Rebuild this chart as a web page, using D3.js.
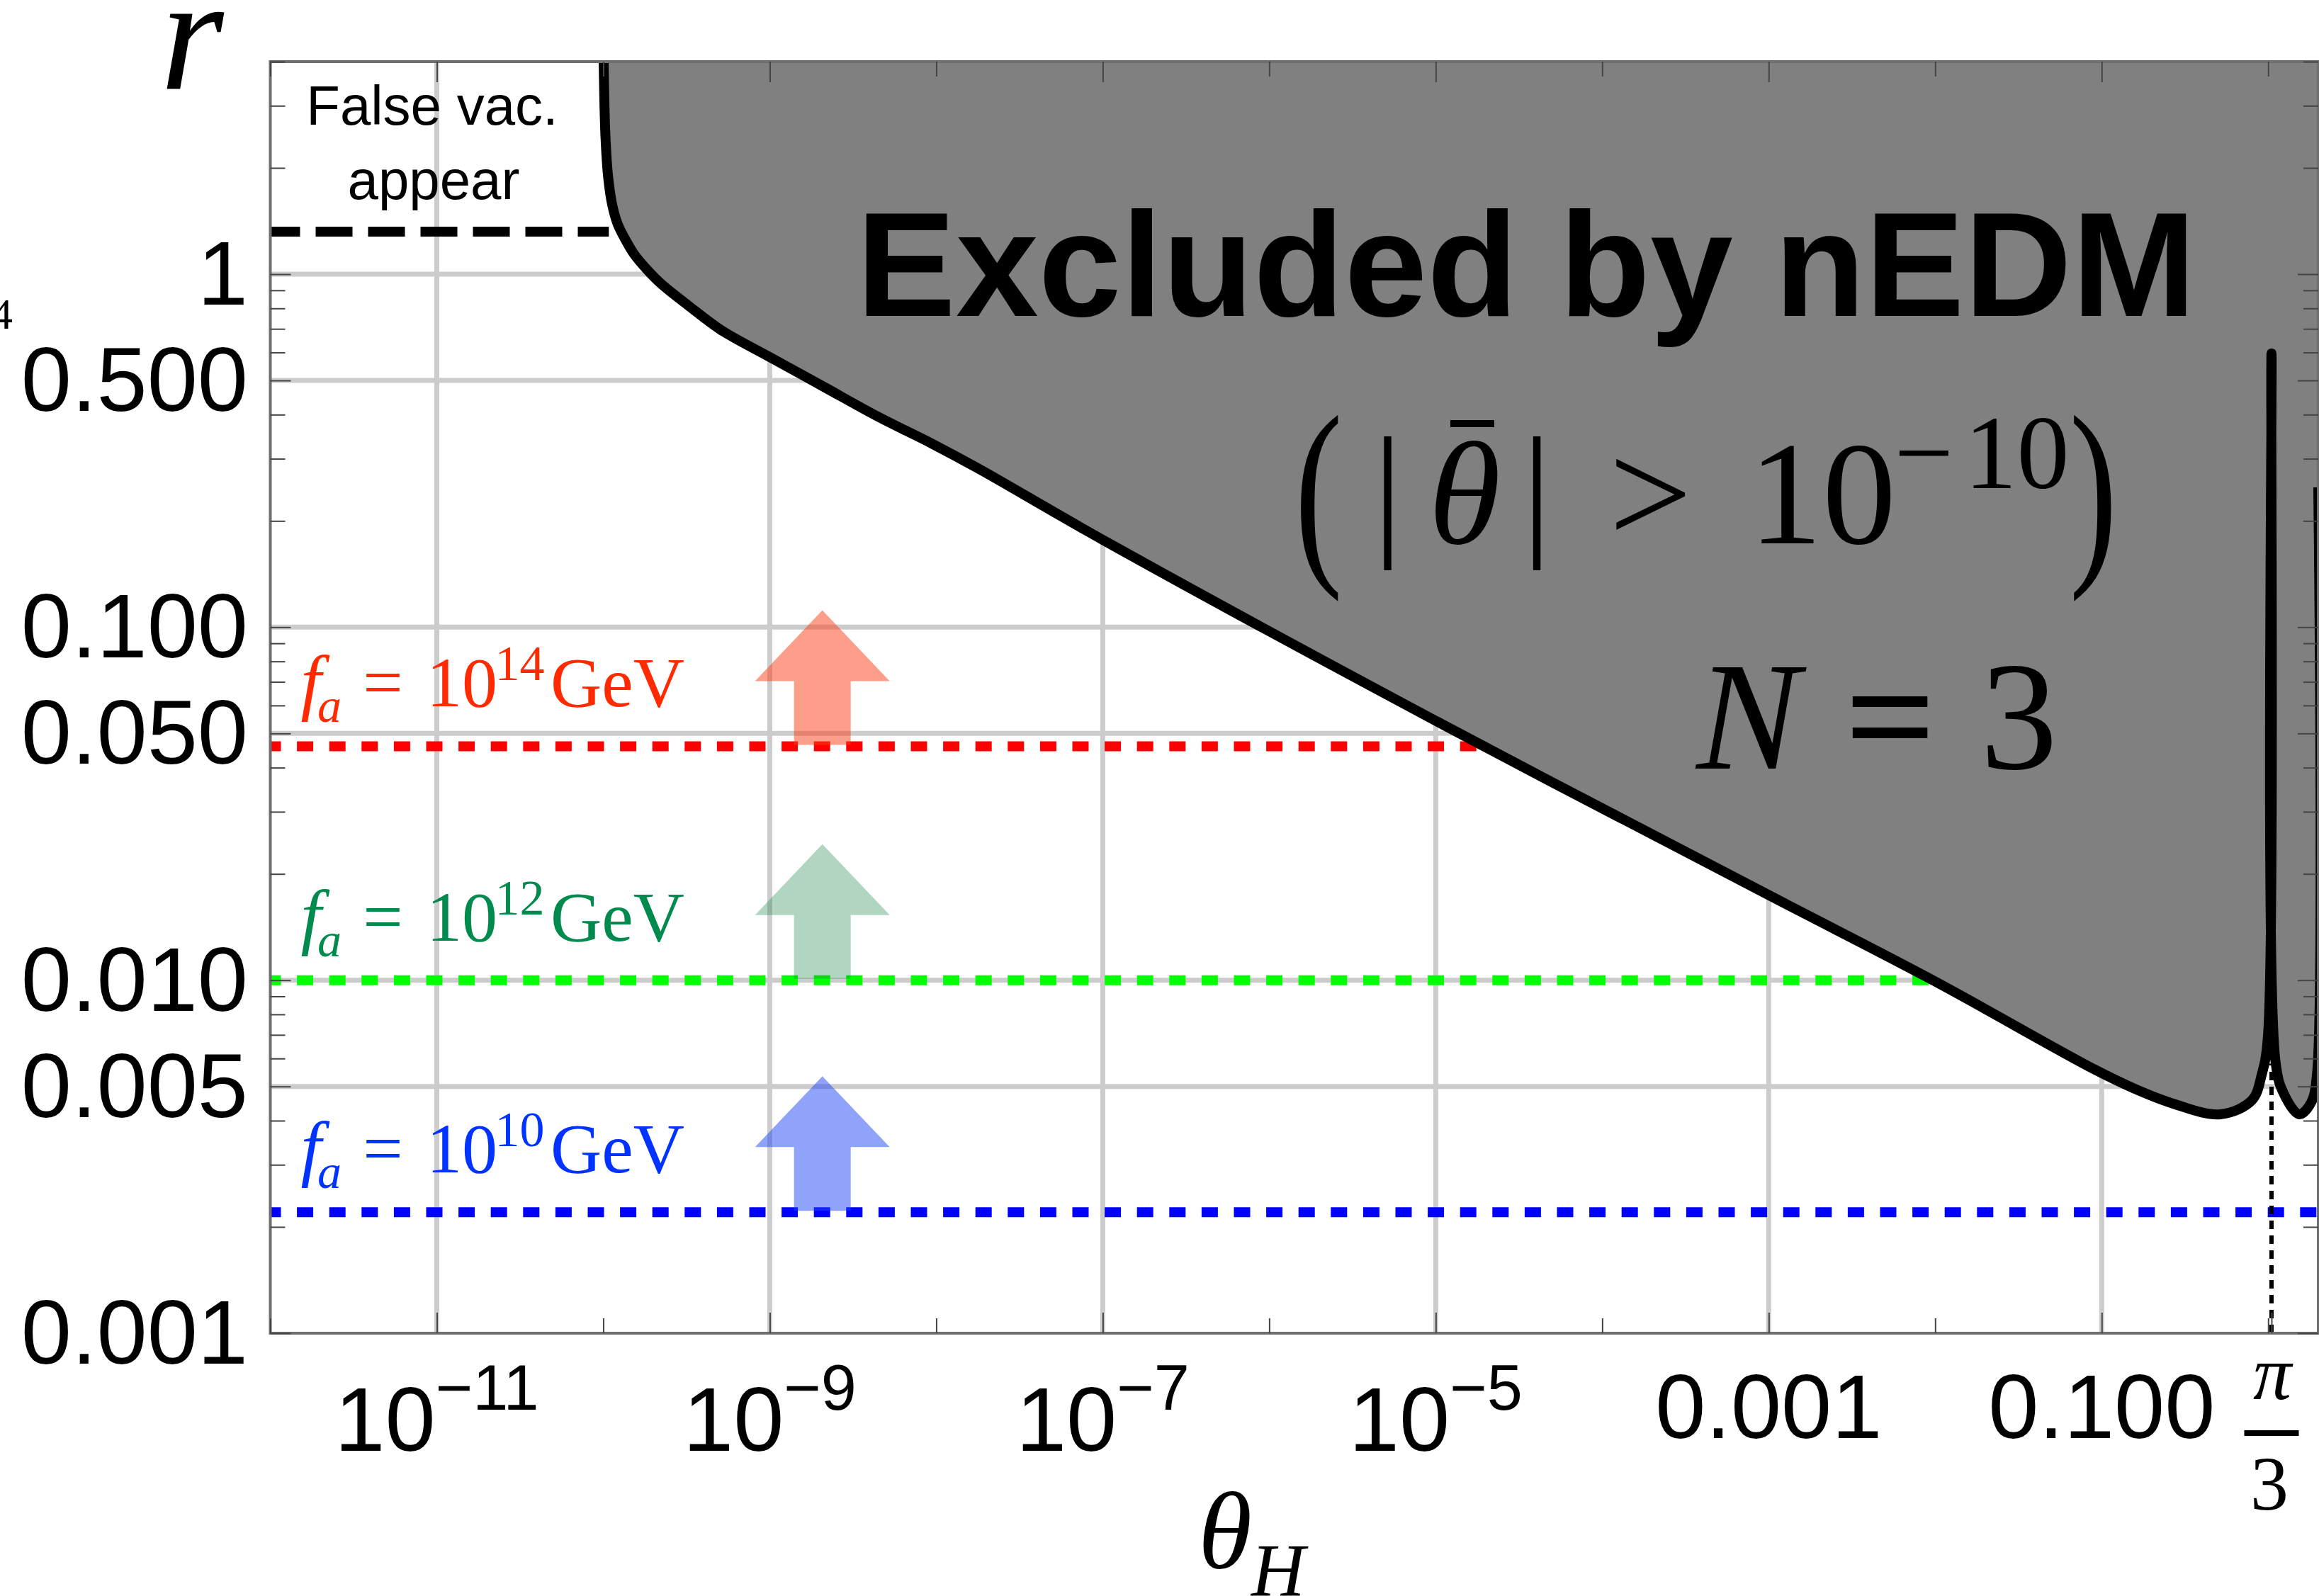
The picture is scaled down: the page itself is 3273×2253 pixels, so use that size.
<!DOCTYPE html>
<html>
<head>
<meta charset="utf-8">
<script src="https://cdn.jsdelivr.net/npm/d3@7/dist/d3.min.js"></script>
<style>
  body { margin: 0; background: #fff; }
  svg { display: block; }
</style>
</head>
<body>
<svg id="chart"></svg>
<script>
// axis ranges
const thetaDomain = [1e-12, 2];
const rDomain = [0.001, 4];

// boundary of the region excluded by nEDM
const boundaryTheta = [1.005e-10, 1.031e-10, 1.071e-10, 1.132e-10, 1.220e-10, 1.365e-10, 1.528e-10,
  1.842e-10, 2.224e-10, 3.237e-10, 5.076e-10, 9.971e-10, 2.110e-9, 4.465e-9, 9.456e-9, 1.774e-8,
  1.005e-7, 1.015e-5, 1.005e-3, 9.663e-3,
  0.0904, 0.1558, 0.2688, 0.5165, 0.7991, 0.9157, 0.9940, 1.0472, 1.108, 1.236, 1.537,
  1.811, 1.964, 2.0];
const boundaryR = [4.0, 2.443, 1.874, 1.570, 1.387, 1.247, 1.141,
  1.027, 0.9395, 0.8154, 0.6956, 0.5826, 0.4797, 0.3948, 0.3308, 0.2821,
  0.1766, 0.0541, 0.0174, 0.0100,
  0.00559, 0.00494, 0.00447, 0.00417, 0.00457, 0.00541, 0.00682, 0.596, 0.00585, 0.00479, 0.00417,
  0.00450, 0.00541, 0.249];

// f_a reference lines
const faExponents = ['14', '12', '10'];
const faR = [0.046, 0.010, 0.0022];
const faEndTheta = [1.83e-5, 9.66e-3, 2];
const faLineColors = ['#ff0000', '#00ff00', '#0000ff'];
const faTextColors = ['#ff2a00', '#008a4e', '#0033ff'];
const faArrowColors = ['#f93d15', '#1d874b', '#1f47f5'];
const faArrowOpacity = [0.5, 0.35, 0.5];
const arrowTheta = 2.07e-9;

// false vacuum line and the pi/3 marker
const falseVacR = 1.32;
const falseVacEndTheta = 1.08e-10;
const spikeTheta = Math.PI / 3;
const spikeBaseR = 0.0058;

// ticks
const xMajorTicks = [1e-11, 1e-9, 1e-7, 1e-5, 1e-3, 1e-1];
const xMajorLabels = [['10', '−11'], ['10', '−9'], ['10', '−7'], ['10', '−5'], ['0.001', ''], ['0.100', '']];
const xMinorTicks = [1e-12, 1e-10, 1e-8, 1e-6, 1e-4, 1e-2, 1];
const yMajorTicks = [1, 0.5, 0.1, 0.05, 0.01, 0.005, 0.001];
const yMajorLabels = ['1', '0.500', '0.100', '0.050', '0.010', '0.005', '0.001'];
const yMinorTicks = [0.002, 0.003, 0.004, 0.006, 0.007, 0.008, 0.009,
  0.02, 0.03, 0.04, 0.06, 0.07, 0.08, 0.09,
  0.2, 0.3, 0.4, 0.6, 0.7, 0.8, 0.9, 2, 3, 4];

const W = 3273, H = 2253;
const plot = { left: 381.5, right: 3272, top: 87, bottom: 1882 };
const serif = "'Liberation Serif', 'DejaVu Serif', serif";
const sans = "'Liberation Sans', Arial, sans-serif";

const svg = d3.select('#chart').attr('width', W).attr('height', H);

const x = d3.scaleLog().domain(thetaDomain).range([plot.left, plot.right]);
const y = d3.scaleLog().domain(rDomain).range([plot.bottom, plot.top]);

svg.append('defs').append('clipPath').attr('id', 'clip')
  .append('rect')
  .attr('x', plot.left).attr('y', plot.top)
  .attr('width', plot.right - plot.left).attr('height', plot.bottom - plot.top);

const plotG = svg.append('g').attr('clip-path', 'url(#clip)');

// grid
plotG.append('g').selectAll('line').data(xMajorTicks).join('line')
  .attr('x1', d => x(d)).attr('x2', d => x(d))
  .attr('y1', plot.top).attr('y2', plot.bottom)
  .attr('stroke', '#cccccc').attr('stroke-width', 7);
plotG.append('g').selectAll('line').data(yMajorTicks.filter(d => d > rDomain[0])).join('line')
  .attr('x1', plot.left).attr('x2', plot.right)
  .attr('y1', d => y(d)).attr('y2', d => y(d))
  .attr('stroke', '#cccccc').attr('stroke-width', 7);

// f_a lines
plotG.append('g').selectAll('line').data(faR).join('line')
  .attr('x1', plot.left).attr('x2', (d, i) => x(faEndTheta[i]))
  .attr('y1', d => y(d)).attr('y2', d => y(d))
  .attr('stroke', (d, i) => faLineColors[i])
  .attr('stroke-width', 14)
  .attr('stroke-dasharray', '23,22.6')
  .attr('stroke-dashoffset', 8);

// false vacuum line
plotG.append('line')
  .attr('x1', plot.left).attr('x2', x(falseVacEndTheta))
  .attr('y1', y(falseVacR)).attr('y2', y(falseVacR))
  .attr('stroke', '#000').attr('stroke-width', 14)
  .attr('stroke-dasharray', '52,22').attr('stroke-dashoffset', 10);

// excluded region
const pts = boundaryTheta.map((t, i) => [t, boundaryR[i]]);
const smooth = d3.curveCatmullRom.alpha(0.5);
const area = d3.area()
  .x(d => x(d[0])).y0(plot.top - 10).y1(d => y(d[1]))
  .curve(smooth);
const line = d3.line()
  .x(d => x(d[0])).y(d => y(d[1]))
  .curve(smooth);

plotG.append('path').datum(pts).attr('d', area).attr('fill', '#808080');
plotG.append('path').datum(pts).attr('d', line)
  .attr('fill', 'none').attr('stroke', '#000').attr('stroke-width', 14)
  .attr('stroke-linejoin', 'bevel');

// pi/3 marker
plotG.append('line')
  .attr('x1', x(spikeTheta)).attr('x2', x(spikeTheta))
  .attr('y1', y(rDomain[0])).attr('y2', y(spikeBaseR))
  .attr('stroke', '#000').attr('stroke-width', 6)
  .attr('stroke-dasharray', '12,9');

// arrows
faR.forEach((r, i) => {
  const cx = x(arrowTheta), yb = y(r) - 2;
  const p = d3.path();
  p.moveTo(cx - 40, yb);
  p.lineTo(cx - 40, yb - 90);
  p.lineTo(cx - 95, yb - 90);
  p.lineTo(cx, yb - 190);
  p.lineTo(cx + 95, yb - 90);
  p.lineTo(cx + 40, yb - 90);
  p.lineTo(cx + 40, yb);
  p.closePath();
  plotG.append('path').attr('d', p.toString())
    .attr('fill', faArrowColors[i]).attr('fill-opacity', faArrowOpacity[i]);
});

function tx(txt, cx, base, size, o = {}) {
  return svg.append('text')
    .attr('x', cx).attr('y', base)
    .attr('text-anchor', o.anchor || 'middle')
    .attr('font-family', o.family || serif)
    .attr('font-size', size)
    .attr('font-style', o.italic ? 'italic' : null)
    .attr('font-weight', o.bold ? 'bold' : null)
    .attr('fill', o.fill || '#000')
    .text(txt);
}

// f_a labels
faR.forEach((r, i) => {
  const base = y(r) - 56, c = faTextColors[i];
  tx('f', 439, base, 104, { italic: true, fill: c });
  tx('a', 465, base + 22, 68, { italic: true, fill: c });
  tx('=', 540.5, base, 100, { fill: c });
  tx('10', 652, base, 100, { fill: c });
  tx(faExponents[i], 733.5, base - 37, 70, { fill: c });
  tx('GeV', 871.5, base, 100, { fill: c });
});

// annotations
tx('False vac.', 610, 176, 78, { family: sans });
tx('appear', 612, 281, 78, { family: sans });
tx('Excluded by nEDM', 2154, 446, 210, { family: sans, bold: true });

svg.append('text').attr('transform', 'translate(1861,787) scale(0.7,1)')
  .attr('text-anchor', 'middle').attr('font-family', serif).attr('font-size', 290).text('(');
tx('|', 1958.5, 760, 208);
tx('θ', 2067, 767, 208, { italic: true });
svg.append('line')
  .attr('x1', 2047).attr('x2', 2109).attr('y1', 598).attr('y2', 598)
  .attr('stroke', '#000').attr('stroke-width', 10);
tx('|', 2169, 760, 208);
tx('>', 2329.5, 767, 208);
tx('10', 2572, 767, 208);
tx('−', 2715.5, 689, 148);
tx('10', 2846.5, 689, 148);
svg.append('text').attr('transform', 'translate(2954.5,787) scale(0.7,1)')
  .attr('text-anchor', 'middle').attr('font-family', serif).attr('font-size', 290).text(')');

tx('N', 2467, 1085, 218, { italic: true });
tx('=', 2667.5, 1085, 218).attr('stroke', '#000').attr('stroke-width', 4);
tx('3', 2849.5, 1085, 218);

// frame
svg.append('rect')
  .attr('x', plot.left).attr('y', plot.top)
  .attr('width', plot.right - plot.left).attr('height', plot.bottom - plot.top)
  .attr('fill', 'none').attr('stroke', '#6e6e6e').attr('stroke-width', 4);

// ticks, all four sides, pointing inward
function ticks(axisFn, scale, vals, len, tr) {
  const g = svg.append('g').attr('transform', tr)
    .call(axisFn(scale).tickValues(vals).tickSizeInner(-len).tickSizeOuter(0).tickFormat(''));
  g.select('.domain').remove();
  g.selectAll('line').attr('stroke', '#444').attr('stroke-width', 2);
}
const xMaj = xMajorTicks.concat([spikeTheta]);
ticks(d3.axisBottom, x, xMaj, 29, `translate(0,${plot.bottom})`);
ticks(d3.axisBottom, x, xMinorTicks, 21, `translate(0,${plot.bottom})`);
ticks(d3.axisTop, x, xMajorTicks, 29, `translate(0,${plot.top})`);
ticks(d3.axisTop, x, xMinorTicks, 21, `translate(0,${plot.top})`);
ticks(d3.axisLeft, y, yMajorTicks, 29, `translate(${plot.left},0)`);
ticks(d3.axisLeft, y, yMinorTicks, 21, `translate(${plot.left},0)`);
ticks(d3.axisRight, y, yMajorTicks, 29, `translate(${plot.right},0)`);
ticks(d3.axisRight, y, yMinorTicks, 21, `translate(${plot.right},0)`);

// y tick labels
svg.append('g').selectAll('text').data(yMajorTicks).join('text')
  .attr('x', 350).attr('y', d => y(d) + 43)
  .attr('text-anchor', 'end')
  .attr('font-family', sans).attr('font-size', 128)
  .text((d, i) => yMajorLabels[i]);

// x tick labels
xMajorTicks.forEach((t, i) => {
  const [main, sup] = xMajorLabels[i];
  const el = svg.append('text')
    .attr('x', x(t)).attr('y', sup ? 2048 : 2030)
    .attr('text-anchor', 'middle')
    .attr('font-family', sans).attr('font-size', 128);
  el.append('tspan').text(main);
  if (sup) el.append('tspan').attr('dy', -58).attr('font-size', 90).text(sup);
});

// pi/3 label
const px = x(spikeTheta);
tx('π', px + 1, 1975, 108, { italic: true });
svg.append('line')
  .attr('x1', px - 38.5).attr('x2', px + 38.5).attr('y1', 2023).attr('y2', 2023)
  .attr('stroke', '#000').attr('stroke-width', 8);
tx('3', px - 3, 2131, 108);

// axis titles
tx('θ', 1729, 2213, 155, { italic: true });
tx('H', 1804, 2252, 105, { italic: true });
tx('r', 271, 126, 230, { italic: true });
tx('4', 18, 464, 62, { anchor: 'end' });
</script>
</body>
</html>
